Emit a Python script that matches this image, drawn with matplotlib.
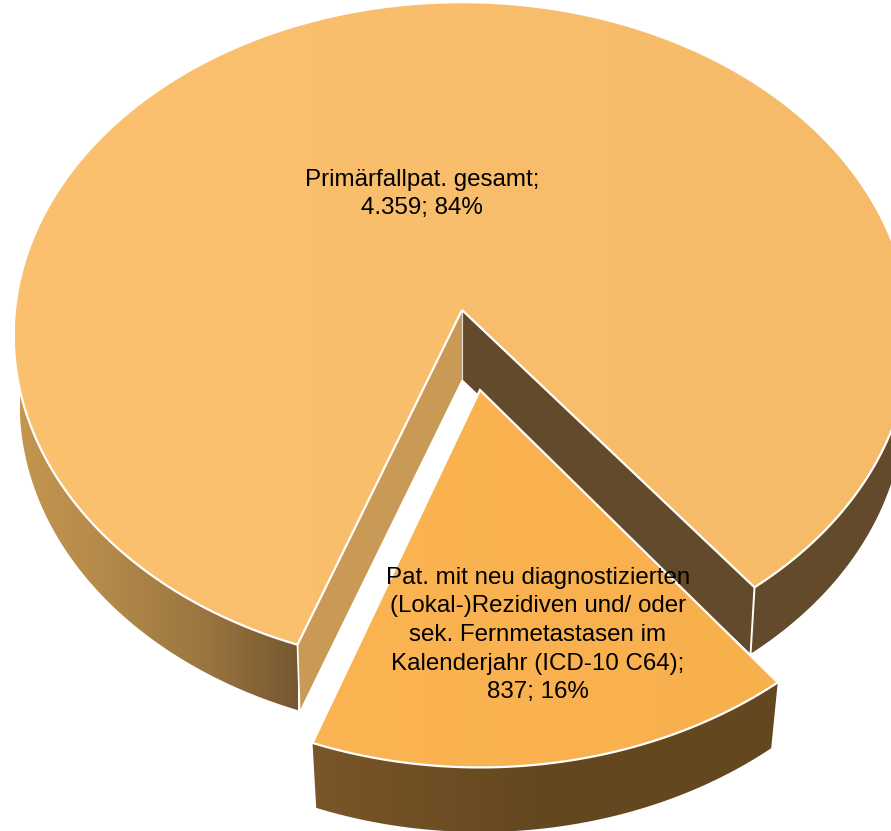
import numpy as np
import matplotlib
matplotlib.use("Agg")
import matplotlib.pyplot as plt
from matplotlib.patches import Polygon
from matplotlib.colors import LinearSegmentedColormap

categories = ["Primärfallpat. gesamt;\n4.359; 84%",
              "Pat. mit neu diagnostizierten\n(Lokal-)Rezidiven und/ oder\nsek. Fernmetastasen im\nKalenderjahr (ICD-10 C64);\n837; 16%"]
values = [4359, 837]

W, H = 891, 831
plt.rcParams['font.family'] = ['Liberation Sans', 'DejaVu Sans']
fig = plt.figure(figsize=(W / 100, H / 100), dpi=100)
ax = fig.add_axes([0, 0, 1, 1])
ax.set_xlim(0, W)
ax.set_ylim(H, 0)
ax.axis('off')

K = 0.0753
BIG_TOP = (462, 310, 447, 331)
BIG_LOW = (462, 379, 441, 328)
SMALL_TOP = (480, 390, 455, 349)
SMALL_LOW = (480, 460, 445, 344)


def project(t_deg, plane):
    x0, y0, a, b = plane
    t = np.radians(t_deg)
    w = 1 + K * np.sin(t)
    return np.column_stack([x0 + a * np.cos(t) / w, y0 - b * np.sin(t) / w])


def apex(plane):
    return np.array([[plane[0], plane[1]]])


def gradient(poly, colors, x1, x2, z):
    cmap = LinearSegmentedColormap.from_list("g", colors)
    im = ax.imshow(np.linspace(0, 1, 256)[None, :], cmap=cmap, aspect='auto',
                   extent=(x1, x2, H, 0), zorder=z, interpolation='bilinear')
    patch = Polygon(poly, closed=True, transform=ax.transData, fc='none', ec='none')
    ax.add_patch(patch)
    im.set_clip_path(patch)
    ax.set_xlim(0, W)
    ax.set_ylim(H, 0)


def wall(t1, t2, up, low):
    ts = np.linspace(t1, t2, 200)
    return np.vstack([project(ts, up), project(ts[::-1], low)])


def outline(poly, z, lw=1.6):
    ax.add_patch(Polygon(poly, closed=True, fc='none', ec='white', lw=lw,
                         joinstyle='miter', zorder=z))


# slice angles from the values
total = sum(values)
small_span = 360 * values[1] / total
small_start = 250.0
small_end = small_start + small_span
big_end = small_start + 360

# big slice: outer walls
left_wall = wall(170, small_start, BIG_TOP, BIG_LOW)
gradient(left_wall, ["#C4964F", "#B2884A", "#9A753F", "#765730"], 20, 298, 1)
right_wall = wall(small_end, small_end + 70, BIG_TOP, BIG_LOW)
ax.add_patch(Polygon(right_wall, closed=True, fc="#634A2A", ec='none', zorder=1))

# big slice: inner walls
c_left_up = project(small_start, BIG_TOP)
c_left_low = project(small_start, BIG_LOW)
c_right_up = project(small_end, BIG_TOP)
c_right_low = project(small_end, BIG_LOW)
inner_left = np.vstack([apex(BIG_TOP), c_left_up, c_left_low, apex(BIG_LOW)])
inner_right = np.vstack([apex(BIG_TOP), apex(BIG_LOW), c_right_low, c_right_up])
ax.add_patch(Polygon(inner_left, closed=True, fc="#C99A55", ec='none', zorder=2))
ax.add_patch(Polygon(inner_right, closed=True, fc="#634A2A", ec='none', zorder=2))
ax.plot(*np.vstack([apex(BIG_TOP), apex(BIG_LOW)]).T, color='#E8E4DC', lw=0.8, zorder=3)
ax.plot(*np.vstack([c_left_up, c_left_low]).T, color='white', lw=1.2, zorder=3)
ax.plot(*np.vstack([c_right_up, c_right_low]).T, color='white', lw=1.4, zorder=3)

# big slice: top surface
ts = np.linspace(small_end, big_end, 720)
big_top = np.vstack([apex(BIG_TOP), project(ts, BIG_TOP)])
gradient(big_top, ["#FCC16E", "#F5BB69"], 15, 910, 4)
outline(big_top, 5)

# small slice: walls and top surface
small_wall = wall(small_start, small_end, SMALL_TOP, SMALL_LOW)
gradient(small_wall, ["#7A5629", "#64471F", "#64471F"], 312, 780, 6)
ts = np.linspace(small_start, small_end, 200)
small_top = np.vstack([apex(SMALL_TOP), project(ts, SMALL_TOP)])
gradient(small_top, ["#FBB452", "#F8B04D"], 312, 780, 7)
outline(small_top, 8)

ax.text(422, 194, categories[0], ha='center', va='center', fontsize=17.4,
        linespacing=1.39, color='black', zorder=10)
ax.text(538, 635, categories[1], ha='center', va='center', fontsize=17.4,
        linespacing=1.39, color='black', zorder=10)

fig.savefig("out.png", dpi=100, facecolor='white')
